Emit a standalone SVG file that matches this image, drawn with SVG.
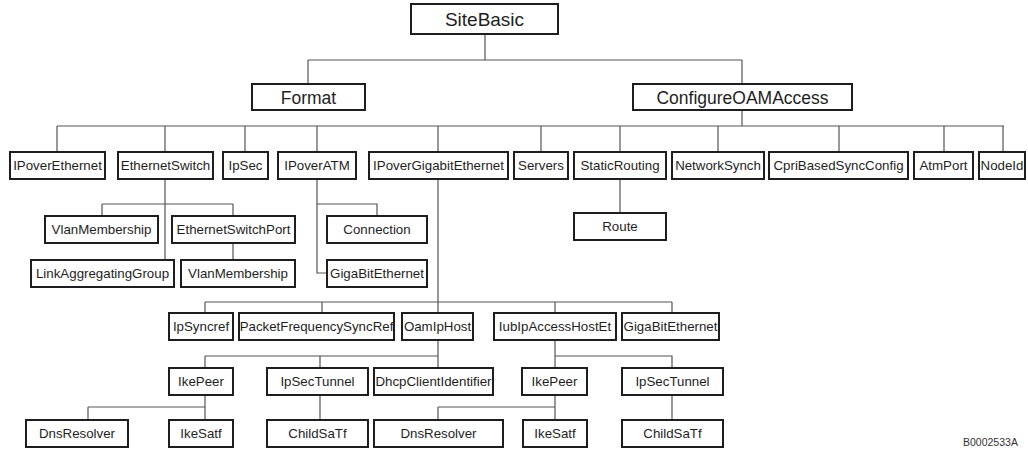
<svg xmlns="http://www.w3.org/2000/svg" width="1028" height="450" viewBox="0 0 1028 450">
<style>
.n rect{fill:#fff;stroke:#1e1e1e;stroke-width:2}
.n text{font-family:"Liberation Sans",Arial,sans-serif;font-size:13.3px;fill:#1e1e1e;text-anchor:middle}
.big text{font-size:19px}
.mid text{font-size:17.5px}
.c path{fill:none;stroke:#555;stroke-width:1.2}
.lbl{font-family:"Liberation Sans",Arial,sans-serif;font-size:10.5px;fill:#333}
</style>
<rect width="1028" height="450" fill="#fff"/>
<g class="c" id="connectors">
<path d="M485,34V60M308,60H742M308,60V84M742,60V84"/>
<path d="M742,110V126M57,126H1004M57,126V152M165,126V152M245,126V152M317,126V152M438,126V152M541,126V152M620,126V152M718,126V152M839,126V152M944,126V152M1003,126V152"/>
<path d="M165,179V260M102,204H233M102,204V216M233,204V216M233,243V260"/>
<path d="M317,179V273H327M317,204H377V216"/>
<path d="M620,179V213"/>
<path d="M438,179V313M205,302H672M205,302V313M322,302V313M555,302V313M672,302V313"/>
<path d="M438,340V368M205,356H438M205,356V368M320,356V368"/>
<path d="M205,395V420M88,407H205M88,407V420M320,395V420"/>
<path d="M555,340V368M555,356H672V368"/>
<path d="M555,395V420M438,407H555M438,407V420M672,395V420"/>
</g>
<g class="n big" id="SiteBasic"><rect x="411" y="4" width="147" height="30"/><text x="484.5" y="26">SiteBasic</text></g>
<g class="n mid" id="Format"><rect x="252" y="84" width="113" height="26"/><text x="308.5" y="103.5">Format</text></g>
<g class="n mid" id="ConfigureOAMAccess"><rect x="633" y="84" width="219" height="26"/><text x="742.5" y="103.5">ConfigureOAMAccess</text></g>
<g class="n" id="IPoverEthernet"><rect x="10" y="152" width="95" height="27"/><text x="57.5" y="170">IPoverEthernet</text></g>
<g class="n" id="EthernetSwitch"><rect x="118" y="152" width="95" height="27"/><text x="165.5" y="170">EthernetSwitch</text></g>
<g class="n" id="IpSec"><rect x="223" y="152" width="45" height="27"/><text x="245.5" y="170">IpSec</text></g>
<g class="n" id="IPoverATM"><rect x="278" y="152" width="78" height="27"/><text x="317" y="170">IPoverATM</text></g>
<g class="n" id="IPoverGigabitEthernet"><rect x="369" y="152" width="139" height="27"/><text x="438.5" y="170">IPoverGigabitEthernet</text></g>
<g class="n" id="Servers"><rect x="514" y="152" width="54" height="27"/><text x="541" y="170">Servers</text></g>
<g class="n" id="StaticRouting"><rect x="574" y="152" width="92" height="27"/><text x="620" y="170">StaticRouting</text></g>
<g class="n" id="NetworkSynch"><rect x="672" y="152" width="92" height="27"/><text x="718" y="170">NetworkSynch</text></g>
<g class="n" id="CpriBasedSyncConfig"><rect x="769" y="152" width="139" height="27"/><text x="838.5" y="170">CpriBasedSyncConfig</text></g>
<g class="n" id="AtmPort"><rect x="914" y="152" width="59" height="27"/><text x="943.5" y="170">AtmPort</text></g>
<g class="n" id="NodeId"><rect x="979" y="152" width="46" height="27"/><text x="1002" y="170">NodeId</text></g>
<g class="n" id="VlanMembership1"><rect x="45" y="216" width="113" height="27"/><text x="101.5" y="234">VlanMembership</text></g>
<g class="n" id="EthernetSwitchPort"><rect x="172" y="216" width="123" height="27"/><text x="233.5" y="234">EthernetSwitchPort</text></g>
<g class="n" id="Connection"><rect x="327" y="216" width="100" height="27"/><text x="377" y="234">Connection</text></g>
<g class="n" id="Route"><rect x="574" y="213" width="92" height="27"/><text x="620" y="231">Route</text></g>
<g class="n" id="LinkAggregatingGroup"><rect x="31" y="260" width="143" height="27"/><text x="102.5" y="278">LinkAggregatingGroup</text></g>
<g class="n" id="VlanMembership2"><rect x="181" y="260" width="114" height="27"/><text x="238" y="278">VlanMembership</text></g>
<g class="n" id="GigaBitEthernet1"><rect x="327" y="260" width="100" height="27"/><text x="377" y="278">GigaBitEthernet</text></g>
<g class="n" id="IpSyncref"><rect x="169" y="313" width="64" height="27"/><text x="201" y="331">IpSyncref</text></g>
<g class="n" id="PacketFrequencySyncRef"><rect x="239" y="313" width="155" height="27"/><text x="316.5" y="331">PacketFrequencySyncRef</text></g>
<g class="n" id="OamIpHost"><rect x="402" y="313" width="71" height="27"/><text x="437.5" y="331">OamIpHost</text></g>
<g class="n" id="IubIpAccessHostEt"><rect x="494" y="313" width="122" height="27"/><text x="555" y="331">IubIpAccessHostEt</text></g>
<g class="n" id="GigaBitEthernet2"><rect x="622" y="313" width="97" height="27"/><text x="670.5" y="331">GigaBitEthernet</text></g>
<g class="n" id="IkePeer1"><rect x="169" y="368" width="64" height="27"/><text x="201" y="386">IkePeer</text></g>
<g class="n" id="IpSecTunnel1"><rect x="267" y="368" width="101" height="27"/><text x="317.5" y="386">IpSecTunnel</text></g>
<g class="n" id="DhcpClientIdentifier"><rect x="374" y="368" width="119" height="27"/><text x="433.5" y="386">DhcpClientIdentifier</text></g>
<g class="n" id="IkePeer2"><rect x="522" y="368" width="65" height="27"/><text x="554.5" y="386">IkePeer</text></g>
<g class="n" id="IpSecTunnel2"><rect x="622" y="368" width="101" height="27"/><text x="672.5" y="386">IpSecTunnel</text></g>
<g class="n" id="DnsResolver1"><rect x="26" y="420" width="102" height="27"/><text x="77" y="438">DnsResolver</text></g>
<g class="n" id="IkeSatf1"><rect x="169" y="420" width="64" height="27"/><text x="201" y="438">IkeSatf</text></g>
<g class="n" id="ChildSaTf1"><rect x="267" y="420" width="101" height="27"/><text x="317.5" y="438">ChildSaTf</text></g>
<g class="n" id="DnsResolver2"><rect x="374" y="420" width="129" height="27"/><text x="438.5" y="438">DnsResolver</text></g>
<g class="n" id="IkeSatf2"><rect x="523" y="420" width="64" height="27"/><text x="555" y="438">IkeSatf</text></g>
<g class="n" id="ChildSaTf2"><rect x="622" y="420" width="101" height="27"/><text x="672.5" y="438">ChildSaTf</text></g>
<text class="lbl" x="963" y="446">B0002533A</text>
</svg>
